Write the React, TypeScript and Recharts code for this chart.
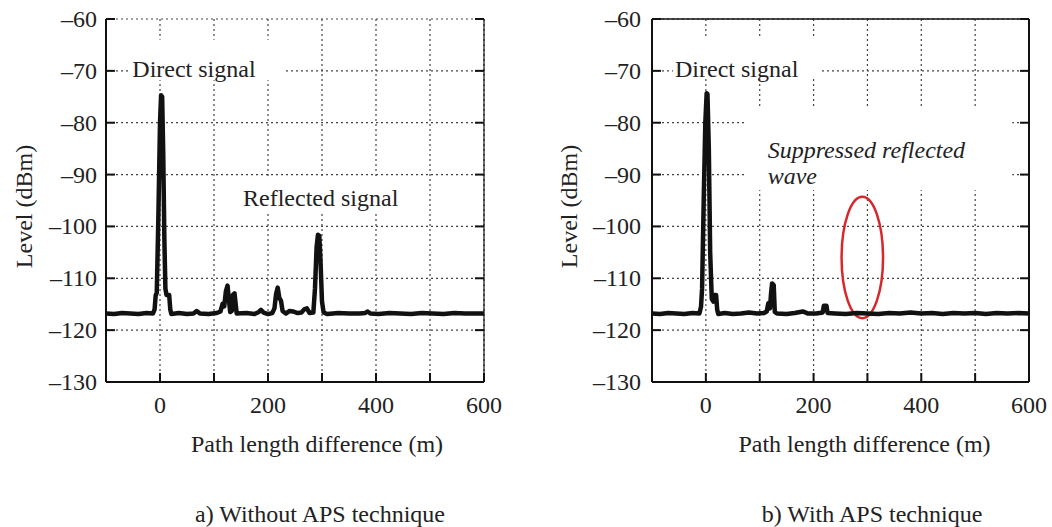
import {
  CartesianGrid,
  Label,
  Line,
  LineChart,
  ReferenceArea,
  XAxis,
  YAxis,
} from "recharts";

const FONT = "'Liberation Serif', 'DejaVu Serif', 'Noto Serif', serif";
const FS = 24;

const xTicks = [-100, 0, 100, 200, 300, 400, 500, 600];
const yTicks = [-130, -120, -110, -100, -90, -80, -70, -60];

// a) without APS: path length difference (m) / level (dBm)
const withoutApsPath = [
  -100, -85, -70, -55, -40, -25, -13, -10, -8, -6, -3, 0, 2, 4, 6, 8, 10, 12, 17, 19, 21,
  35, 50, 62, 68, 74, 90, 105, 112, 116, 119, 122, 125, 127.5, 130, 133, 135, 138, 140, 142,
  160, 175, 183, 187, 192, 200, 208, 212, 215, 218, 221, 224, 227, 233, 240, 246, 255, 262,
  267, 272, 277, 284, 287, 290, 292.5, 295, 297, 300, 303, 310, 330, 350, 370, 380, 384, 390,
  405, 425, 445, 465, 485, 505, 525, 545, 565, 585, 600,
];
const withoutApsLevel = [
  -116.8, -116.9, -116.7, -116.8, -116.9, -116.7, -116.8, -116, -113.3, -112.8, -98, -80,
  -74.7, -75, -86, -102, -112, -113.2, -113.2, -116, -116.9,
  -116.7, -116.9, -116.8, -116.3, -116.8, -116.9, -116.7, -116.4, -114.9, -115.4, -112.5,
  -111.4, -114, -116.5, -116.3, -113.2, -112.9, -114.8, -116.8,
  -116.7, -116.9, -116.5, -116.1, -116.6, -116.9, -116.7, -115.8, -113, -111.8, -113.8,
  -114.3, -116.3, -116.8, -116.3, -116.4, -116.7, -116.6,
  -116, -115.8, -116.7, -116.6, -112, -104, -101.6, -101.8, -106, -114.5, -116.6, -116.9,
  -116.7, -116.8, -116.8, -116.7, -116.4, -116.8,
  -116.9, -116.7, -116.8, -116.9, -116.7, -116.8, -116.9, -116.7, -116.8, -116.8, -116.8,
];

// b) with APS
const withApsPath = [
  -100, -85, -70, -55, -40, -25, -12, -9, -7, -4, -1, 1.5, 3, 5.5, 8, 11, 14, 16, 19, 21, 23,
  35, 50, 65, 80, 95, 108, 113, 116, 119, 121, 123, 126, 128, 132, 150, 165, 180, 190, 205,
  217, 219, 224, 226, 240, 260, 280, 300, 320, 340, 360, 380, 400, 420, 440, 460, 480, 500,
  520, 540, 560, 580, 600,
];
const withApsLevel = [
  -116.8, -116.9, -116.7, -116.8, -116.9, -116.7, -116.8, -115.5, -112, -95, -80, -74.3,
  -74.5, -85, -105, -114, -114.5, -113.2, -113.2, -116, -116.9,
  -116.7, -116.9, -116.8, -116.6, -116.8, -116.7, -116.4, -114.8, -115.8, -113, -111,
  -111.3, -116.5, -116.8, -116.9, -116.7, -116.4, -116.8, -116.8,
  -116.6, -115.3, -115.3, -116.7, -116.8, -116.9, -116.7, -116.8, -116.9, -116.7, -116.8,
  -116.6, -116.8, -116.7, -116.9, -116.7, -116.8, -116.7,
  -116.9, -116.7, -116.8, -116.7, -116.8,
];

interface Note {
  x1: number;
  x2: number;
  y1: number;
  y2: number;
  dx: number;
  lines: { text: string; dy: number }[];
  italic?: boolean;
}

const withoutApsNotes: Note[] = [
  { x1: -55, x2: 231, y1: -71.8, y2: -64, dx: 2, lines: [{ text: "Direct signal", dy: 37 }] },
  { x1: 139, x2: 443, y1: -97.4, y2: -90.5, dx: 8, lines: [{ text: "Reflected signal", dy: 29 }] },
];

const withApsNotes: Note[] = [
  { x1: -61, x2: 212, y1: -71.4, y2: -63.7, dx: 2, lines: [{ text: "Direct signal", dy: 39 }] },
  {
    x1: 72,
    x2: 569,
    y1: -93,
    y2: -77,
    dx: 23,
    italic: true,
    lines: [
      { text: "Suppressed reflected", dy: 51 },
      { text: "wave", dy: 77 },
    ],
  },
];

const fmtX = (v: number) => (v >= 0 && v % 200 === 0 ? String(v) : "");
const fmtY = (v: number) => (v < 0 ? "\u2013" + Math.abs(v) : String(v));

const TICK_LEN = 9;
const X_GAP = 16; // bottom axis to label top

// tick marks are drawn inward by hand, labels beside them
function BottomTick({ x, y, payload }: any) {
  const label = fmtX(payload.value);
  return (
    <g>
      <line x1={x} x2={x} y1={y} y2={y - TICK_LEN} stroke="#111" strokeWidth={2} />
      {label && (
        <text x={x} y={y + X_GAP + 15} textAnchor="middle" fontSize={FS} fill="#222" fontFamily={FONT}>
          {label}
        </text>
      )}
    </g>
  );
}

function TopTick({ x, y }: any) {
  return <line x1={x} x2={x} y1={y} y2={y + TICK_LEN} stroke="#111" strokeWidth={2} />;
}

function makeLeftTick(gap: number) {
  return function LeftTick({ x, y, payload }: any) {
    return (
      <g>
        <line x1={x} x2={x + TICK_LEN} y1={y} y2={y} stroke="#111" strokeWidth={2} />
        <text x={x - gap} y={y + 8} textAnchor="end" fontSize={FS} fill="#222" fontFamily={FONT}>
          {fmtY(payload.value)}
        </text>
      </g>
    );
  };
}

function RightTick({ x, y }: any) {
  return <line x1={x} x2={x - TICK_LEN} y1={y} y2={y} stroke="#111" strokeWidth={2} />;
}

function NoteShape({ x, y, width, height, note }: any) {
  return (
    <g>
      <rect x={x} y={y} width={width} height={height} fill="#fff" />
      {note.lines.map((l: { text: string; dy: number }) => (
        <text
          key={l.text}
          x={x + note.dx}
          y={y + l.dy}
          fontSize={FS}
          fontStyle={note.italic ? "italic" : "normal"}
          fill="#222"
          fontFamily={FONT}
        >
          {l.text}
        </text>
      ))}
    </g>
  );
}

interface PanelProps {
  path: number[];
  level: number[];
  notes: Note[];
  width: number;
  yAxisWidth: number;
  marginRight: number;
  yTickGap: number;
  yLabelX: number;
  xLabelDx: number;
  topLine: boolean;
  rightStroke: number;
  ellipse?: { x1: number; x2: number; y1: number; y2: number };
}

function Panel(p: PanelProps) {
  const data = p.path.map((x, i) => ({ path: x, level: p.level[i] }));
  const LeftTick = makeLeftTick(p.yTickGap);
  return (
    <LineChart
      width={p.width}
      height={470}
      data={data}
      margin={{ top: 9, right: p.marginRight, bottom: 8, left: 0 }}
    >
      <CartesianGrid
        stroke="#444"
        strokeDasharray="2 3"
        strokeWidth={1.2}
        verticalValues={xTicks}
        horizontalValues={yTicks}
      />
      <XAxis
        dataKey="path"
        type="number"
        domain={[-100, 600]}
        ticks={xTicks}
        interval={0}
        height={80}
        tickSize={0}
        tickMargin={0}
        tickLine={false}
        tick={<BottomTick />}
        axisLine={{ stroke: "#111", strokeWidth: 2 }}
        allowDataOverflow
      >
        <Label
          content={({ viewBox }: any) => (
            <text
              x={viewBox.x + viewBox.width / 2 + p.xLabelDx}
              y={viewBox.y + 70}
              textAnchor="middle"
              fontSize={FS}
              fill="#222"
              fontFamily={FONT}
            >
              Path length difference (m)
            </text>
          )}
        />
      </XAxis>
      <XAxis
        xAxisId="top"
        orientation="top"
        type="number"
        domain={[-100, 600]}
        ticks={xTicks}
        interval={0}
        height={10}
        tickSize={0}
        tickMargin={0}
        tickLine={false}
        tick={<TopTick />}
        axisLine={p.topLine ? { stroke: "#111", strokeWidth: 1.5 } : false}
        allowDataOverflow
      />
      <YAxis
        type="number"
        domain={[-130, -60]}
        ticks={yTicks}
        interval={0}
        width={p.yAxisWidth}
        tickSize={0}
        tickMargin={0}
        tickLine={false}
        tick={<LeftTick />}
        axisLine={{ stroke: "#111", strokeWidth: 2 }}
        allowDataOverflow
      >
        <Label
          content={({ viewBox }: any) => {
            const cx = viewBox.x + p.yLabelX;
            const cy = viewBox.y + viewBox.height / 2 + 6;
            return (
              <text
                x={0}
                y={0}
                transform={`translate(${cx}, ${cy}) rotate(-90)`}
                textAnchor="middle"
                fontSize={FS}
                fill="#222"
                fontFamily={FONT}
              >
                Level (dBm)
              </text>
            );
          }}
        />
      </YAxis>
      <YAxis
        yAxisId="right"
        orientation="right"
        type="number"
        domain={[-130, -60]}
        ticks={yTicks}
        interval={0}
        width={10}
        tickSize={0}
        tickMargin={0}
        tickLine={false}
        tick={<RightTick />}
        axisLine={{ stroke: "#111", strokeWidth: p.rightStroke }}
        allowDataOverflow
      />
      {p.notes.map((n) => (
        <ReferenceArea
          key={n.lines[0].text}
          x1={n.x1}
          x2={n.x2}
          y1={n.y1}
          y2={n.y2}
          shape={(s: any) => <NoteShape {...s} note={n} />}
        />
      ))}
      <Line
        dataKey="level"
        type="linear"
        stroke="#111"
        strokeWidth={4.5}
        strokeLinejoin="round"
        dot={false}
        isAnimationActive={false}
      />
      {p.ellipse && (
        <ReferenceArea
          x1={p.ellipse.x1}
          x2={p.ellipse.x2}
          y1={p.ellipse.y1}
          y2={p.ellipse.y2}
          shape={(s: any) => (
            <ellipse
              cx={s.x + s.width / 2}
              cy={s.y + s.height / 2}
              rx={s.width / 2}
              ry={s.height / 2}
              fill="none"
              stroke="#d8272b"
              strokeWidth={2.5}
            />
          )}
        />
      )}
    </LineChart>
  );
}

const captionStyle = {
  position: "absolute" as const,
  top: 502,
  width: 400,
  textAlign: "center" as const,
  fontSize: FS,
  lineHeight: "24px",
  color: "#222",
  fontFamily: FONT,
};

export default function App() {
  return (
    <div
      style={{
        position: "absolute",
        left: 0,
        top: 0,
        width: 1052,
        height: 527,
        background: "#fff",
        fontFamily: FONT,
        overflow: "hidden",
      }}
    >
      <div style={{ position: "absolute", left: 0, top: 0 }}>
        <Panel
          path={withoutApsPath}
          level={withoutApsLevel}
          notes={withoutApsNotes}
          width={520}
          yAxisWidth={106}
          marginRight={26}
          yTickGap={9}
          yLabelX={32}
          xLabelDx={22}
          topLine={false}
          rightStroke={1.2}
        />
      </div>
      <div style={{ position: "absolute", left: 540, top: 0 }}>
        <Panel
          path={withApsPath}
          level={withApsLevel}
          notes={withApsNotes}
          width={512}
          yAxisWidth={112}
          marginRight={13}
          yTickGap={11}
          yLabelX={37}
          xLabelDx={24}
          topLine
          rightStroke={2}
          ellipse={{ x1: 252, x2: 329, y1: -117.7, y2: -94.3 }}
        />
      </div>
      <div style={{ ...captionStyle, left: 120 }}>a) Without APS technique</div>
      <div style={{ ...captionStyle, left: 672 }}>b) With APS technique</div>
    </div>
  );
}
